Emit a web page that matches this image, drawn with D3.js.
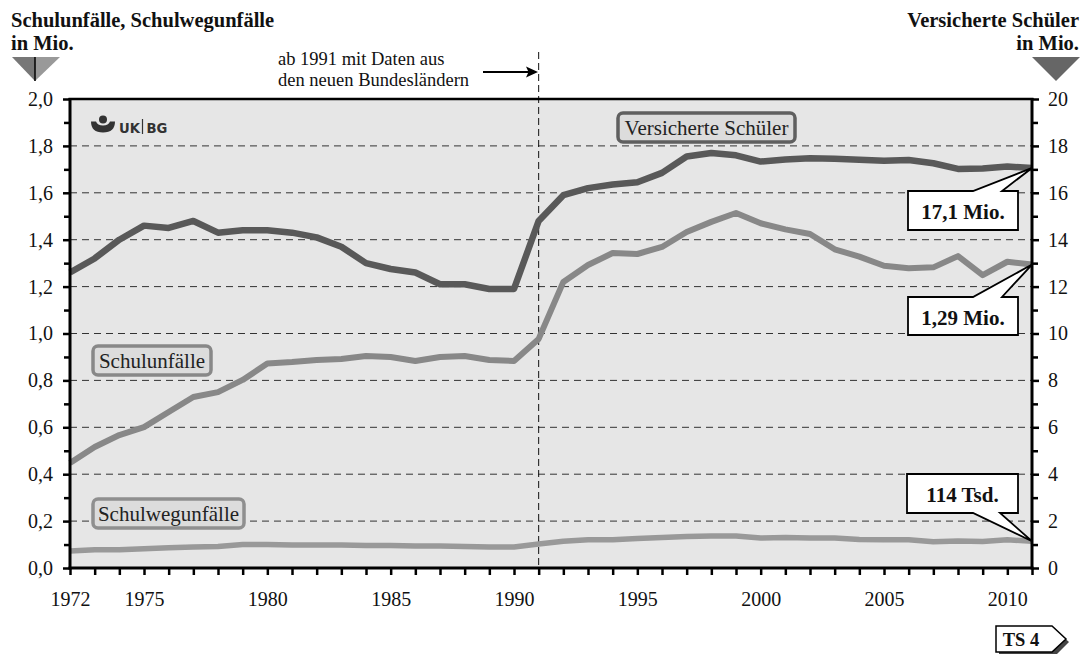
<!DOCTYPE html>
<html><head><meta charset="utf-8">
<script src="https://cdn.jsdelivr.net/npm/d3@7"></script>
<style>body{margin:0;background:#fff}svg{display:block}svg text{font-family:'Liberation Serif','Times New Roman',serif}</style>
</head><body>
<svg id="c" width="1082" height="654"></svg>
<script>
const years = d3.range(1972, 2012);
const versicherte = [12.6,13.2,14.0,14.6,14.5,14.8,14.3,14.4,14.4,14.3,14.1,13.7,13.0,12.75,12.6,12.1,12.1,11.9,11.9,14.8,15.9,16.2,16.35,16.45,16.85,17.55,17.7,17.6,17.33,17.42,17.47,17.45,17.41,17.37,17.4,17.26,17.02,17.04,17.12,17.06];
const schulunfaelle = [0.448,0.516,0.567,0.601,0.665,0.729,0.750,0.802,0.872,0.878,0.887,0.891,0.904,0.900,0.883,0.900,0.904,0.887,0.883,0.977,1.220,1.292,1.343,1.339,1.369,1.433,1.476,1.514,1.470,1.444,1.424,1.359,1.328,1.289,1.278,1.282,1.330,1.249,1.306,1.294];
const schulwegunfaelle = [0.072,0.078,0.078,0.082,0.086,0.09,0.092,0.100,0.100,0.098,0.098,0.098,0.096,0.096,0.094,0.094,0.092,0.090,0.090,0.102,0.114,0.120,0.120,0.126,0.130,0.134,0.136,0.136,0.128,0.130,0.128,0.128,0.122,0.120,0.120,0.112,0.115,0.113,0.120,0.114];
const xTickLabels = [1972,1975,1980,1985,1990,1995,2000,2005,2010];
const leftTicks = [0,0.2,0.4,0.6,0.8,1.0,1.2,1.4,1.6,1.8,2.0];
const rightTicks = [0,2,4,6,8,10,12,14,16,18,20];

const svg = d3.select('#c');
const serif = "'Liberation Serif', 'Times New Roman', serif";
const L=70, R=1032, T=99, B=568;
const x = d3.scaleLinear().domain([1972,2011]).range([L,R]);
const yL = d3.scaleLinear().domain([0,2]).range([B,T]);
const yR = d3.scaleLinear().domain([0,20]).range([B,T]);

svg.append('rect').attr('x',L).attr('y',T).attr('width',R-L).attr('height',B-T).attr('fill','#e6e6e6');

// grid
svg.append('g').selectAll('line').data(leftTicks.filter(d=>d>0&&d<2)).join('line')
  .attr('x1',L).attr('x2',R).attr('y1',d=>yL(d)).attr('y2',d=>yL(d))
  .attr('stroke','#333').attr('stroke-width',1).attr('stroke-dasharray','7,5');

// vertical dashed line 1991
svg.append('line').attr('x1',x(1991)).attr('x2',x(1991)).attr('y1',52).attr('y2',B)
  .attr('stroke','#111').attr('stroke-width',1).attr('stroke-dasharray','7,4');

// lines
const line = (ys, sc) => d3.line().x((d,i)=>x(years[i])).y(d=>sc(d))(ys);
svg.append('path').attr('d',line(schulwegunfaelle,yL)).attr('fill','none').attr('stroke','#999').attr('stroke-width',5.5).attr('stroke-linejoin','round');
svg.append('path').attr('d',line(schulunfaelle,yL)).attr('fill','none').attr('stroke','#888').attr('stroke-width',6).attr('stroke-linejoin','round');
svg.append('path').attr('d',line(versicherte,yR)).attr('fill','none').attr('stroke','#595959').attr('stroke-width',6.5).attr('stroke-linejoin','round');

// axes
const fmt = d=>d3.format('.1f')(d).replace('.',',');
const gl = svg.append('g').attr('transform',`translate(${L},0)`)
  .call(d3.axisLeft(yL).tickValues(leftTicks).tickFormat(fmt).tickSize(7).tickPadding(10));
const glm = svg.append('g').attr('transform',`translate(${L},0)`)
  .call(d3.axisLeft(yL).tickValues(d3.range(0.1,2,0.2)).tickFormat('').tickSize(6));
const gr = svg.append('g').attr('transform',`translate(${R},0)`)
  .call(d3.axisRight(yR).tickValues(rightTicks).tickSize(7).tickPadding(9));
const grm = svg.append('g').attr('transform',`translate(${R},0)`)
  .call(d3.axisRight(yR).tickValues(d3.range(1,20,2)).tickFormat('').tickSize(6));
const gb = svg.append('g').attr('transform',`translate(0,${B})`)
  .call(d3.axisBottom(x).tickValues(years).tickFormat(d=>xTickLabels.includes(d)?d:'').tickSize(7).tickPadding(17));
[gl,glm,gr,grm,gb].forEach(g=>{
  g.attr('font-family',serif).attr('font-size',20);
  g.select('.domain').remove();
  g.selectAll('line').attr('stroke','#000').attr('stroke-width',2.5);
  g.selectAll('text').attr('font-family',serif).attr('font-size',20).attr('fill','#111');
});
// axis lines
svg.append('line').attr('x1',L).attr('x2',L).attr('y1',T-1).attr('y2',B+1.5).attr('stroke','#000').attr('stroke-width',3);
svg.append('line').attr('x1',R).attr('x2',R).attr('y1',T-1).attr('y2',B+1.5).attr('stroke','#000').attr('stroke-width',3);
svg.append('line').attr('x1',L-1.5).attr('x2',R+1.5).attr('y1',B).attr('y2',B).attr('stroke','#000').attr('stroke-width',3);
svg.append('line').attr('x1',L-1.5).attr('x2',R+1.5).attr('y1',T).attr('y2',T).attr('stroke','#000').attr('stroke-width',2.5);

// titles
const t = (txt,xx,yy,opts={})=>svg.append('text').attr('x',xx).attr('y',yy).text(txt)
  .attr('font-family',serif).attr('font-size',opts.size||17).attr('font-weight',opts.bold?'bold':'normal')
  .attr('text-anchor',opts.anchor||'start').attr('fill',opts.fill||'#111');
t('Schulunfälle, Schulwegunfälle',11,27,{bold:true,size:20.5});
t('in Mio.',11,50,{bold:true,size:20.5});
t('Versicherte Schüler',1079,27,{bold:true,size:20.5,anchor:'end'});
t('in Mio.',1079,50,{bold:true,size:20.5,anchor:'end'});

// triangles
svg.append('path').attr('d','M12,57 L35,57 L35,81 Z').attr('fill','#777');
svg.append('path').attr('d','M35,57 L60,57 L35,81 Z').attr('fill','#999');
svg.append('line').attr('x1',35).attr('x2',35).attr('y1',57).attr('y2',81).attr('stroke','#000').attr('stroke-width',1.5);
svg.append('path').attr('d','M1032,57 L1080,57 L1056,81 Z').attr('fill','#666');

// annotation
t('ab 1991 mit Daten aus',278,65,{size:18.5});
t('den neuen Bundesländern',278,86,{size:18.5});
svg.append('line').attr('x1',483).attr('x2',530).attr('y1',72).attr('y2',72).attr('stroke','#000').attr('stroke-width',2);
svg.append('path').attr('d','M538,72 L526,66.5 L528.5,72 L526,77.5 Z').attr('fill','#000');

// logo
const lg = svg.append('g').attr('fill','#333');
lg.append('circle').attr('cx',103).attr('cy',119.5).attr('r',4);
lg.append('path').attr('d','M91,121.5 Q91,132.5 103,132.5 Q115,132.5 115,121.5 L110,121.5 Q108.5,125.5 103,125.5 Q97.5,125.5 96,121.5 Z');
svg.append('text').attr('x',119).attr('y',132.5).text('UK').style('font-family',"'DejaVu Sans', sans-serif").attr('font-weight','bold').attr('font-size',13.2).attr('fill','#333');
svg.append('line').attr('x1',142.5).attr('x2',142.5).attr('y1',119).attr('y2',134).attr('stroke','#333').attr('stroke-width',1.2);
svg.append('text').attr('x',146.5).attr('y',132.5).text('BG').style('font-family',"'DejaVu Sans', sans-serif").attr('font-weight','bold').attr('font-size',13.2).attr('fill','#333');

// series labels
const label = (txt,x0,y0,w,h,stroke)=>{
  svg.append('rect').attr('x',x0).attr('y',y0).attr('width',w).attr('height',h).attr('rx',5)
    .attr('fill','#dcdcdc').attr('stroke',stroke).attr('stroke-width',3.5);
  t(txt,x0+w/2,y0+22,{size:21,anchor:'middle',fill:'#222'});
};
label('Versicherte Schüler',618,113,177,29,'#5f5f5f');
label('Schulunfälle',93,346,118,29,'#888');
label('Schulwegunfälle',93,499,151,29,'#8f8f8f');

// callouts
const callout = (txt,x0,y0,w,h,px1,px2,top,tip)=>{
  let d;
  if(top){
    d=`M${x0},${y0} L${px1},${y0} L${tip[0]},${tip[1]} L${px2},${y0} L${x0+w},${y0} L${x0+w},${y0+h} L${x0},${y0+h} Z`;
  } else {
    d=`M${x0},${y0} L${x0+w},${y0} L${x0+w},${y0+h} L${px2},${y0+h} L${tip[0]},${tip[1]} L${px1},${y0+h} L${x0},${y0+h} Z`;
  }
  svg.append('path').attr('d',d).attr('fill','#fff').attr('stroke','#000').attr('stroke-width',1.8).attr('stroke-linejoin','miter');
  t(txt,x0+w/2,y0+27.5,{size:21,bold:true,anchor:'middle'});
};
callout('17,1 Mio.',908,191,110,39,973,1002,true,[x(2011),yR(versicherte[39])]);
callout('1,29 Mio.',908,297,110,38,973,1002,true,[x(2011),yL(schulunfaelle[39])]);
callout('114 Tsd.',907,474,111,39,973,1000,false,[x(2011),yL(schulwegunfaelle[39])]);

// TS 4
svg.append('path').attr('d','M999,629 L1054,629 L1069,642 L1055,656 L999,656 Z').attr('fill','#444');
svg.append('path').attr('d','M996,626 L1052,626 L1066,639 L1052,652 L996,652 Z').attr('fill','#fff').attr('stroke','#000').attr('stroke-width',1.5);
t('TS 4',1021,645.5,{size:18.5,bold:true,anchor:'middle'});
</script>
</body></html>
